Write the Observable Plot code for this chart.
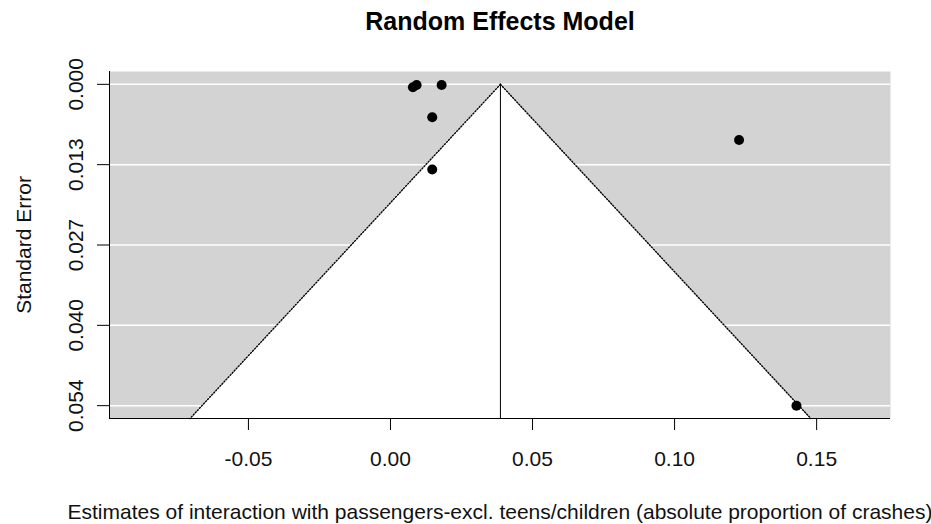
<!DOCTYPE html>
<html>
<head>
<meta charset="utf-8">
<script src="https://cdn.jsdelivr.net/npm/d3@7"></script>
<script src="https://cdn.jsdelivr.net/npm/@observablehq/plot@0.6"></script>
<style>
  html, body { margin: 0; padding: 0; background: white; }
</style>
</head>
<body>
<div id="chart"></div>
<script>
// ---- data ----
const estimates      = [0.0079, 0.0092, 0.0180, 0.0147, 0.0147, 0.1227, 0.1429];
const standardErrors = [0.0005, 0.0001, 0.0001, 0.0055, 0.0142, 0.0093, 0.0536];
const pooledEstimate = 0.0387;
const zCrit = 1.96;

const xTicks      = [-0.05, 0, 0.05, 0.10, 0.15];
const xTickLabels = ["-0.05", "0.00", "0.05", "0.10", "0.15"];
const seTicks      = [0, 0.0134, 0.0268, 0.0402, 0.0536];
const seTickLabels = ["0.000", "0.013", "0.027", "0.040", "0.054"];
const xDomain  = [-0.0989, 0.176];
const seDomain = [-0.00214, 0.05574];

const titleText = "Random Effects Model";
const xLabel = "Estimates of interaction with passengers-excl. teens/children (absolute proportion of crashes)";
const yLabel = "Standard Error";

// ---- derived tables ----
const points = estimates.map((e, i) => ({est: e, se: standardErrors[i]}));
const funnelSE = [0, seDomain[1]];

const font = "'Liberation Sans', Arial, Helvetica, sans-serif";

const chart = Plot.plot({
  width: 931,
  height: 524,
  marginLeft: 109,
  marginRight: 41,
  marginTop: 71,
  marginBottom: 106,
  style: {fontFamily: font, background: "white", color: "black", overflow: "visible"},
  x: {domain: xDomain, axis: null},
  y: {domain: seDomain, reverse: true, axis: null},
  marks: [
    Plot.frame({fill: "#d3d3d3", stroke: null}),
    Plot.ruleY(seTicks, {stroke: "white", strokeWidth: 1.5}),
    Plot.areaX(funnelSE, {y: d => d, x1: d => pooledEstimate - zCrit * d, x2: d => pooledEstimate + zCrit * d, fill: "white"}),
    Plot.line(funnelSE, {y: d => d, x: d => pooledEstimate - zCrit * d, stroke: "black", strokeWidth: 1.4, strokeDasharray: "1.2,1.8"}),
    Plot.line(funnelSE, {y: d => d, x: d => pooledEstimate + zCrit * d, stroke: "black", strokeWidth: 1.4, strokeDasharray: "1.2,1.8"}),
    Plot.ruleX([pooledEstimate], {y1: 0, y2: seDomain[1], stroke: "black", strokeWidth: 1}),
    // L-shaped box
    Plot.ruleX([xDomain[0]], {stroke: "black", strokeWidth: 1}),
    Plot.ruleY([seDomain[1]], {stroke: "black", strokeWidth: 1}),
    // points
    Plot.dot(points, {x: "est", y: "se", r: 5, fill: "black", stroke: null}),
    // axes ticks
    Plot.axisX(xTicks, {tickSize: 12, tickFormat: () => "", label: null, stroke: "black"}),
    Plot.axisY(seTicks, {tickSize: 12, tickFormat: () => "", label: null, stroke: "black"}),
    // tick labels
    Plot.text(xTicks, {x: d => d, text: (d, i) => xTickLabels[i], frameAnchor: "bottom", dy: 47, lineAnchor: "bottom", fontSize: 21, fill: "#111"}),
    Plot.text(seTicks, {y: d => d, text: (d, i) => seTickLabels[i], frameAnchor: "left", dx: -27, rotate: -90, lineAnchor: "bottom", textAnchor: "middle", fontSize: 21, fill: "#111"}),
    // axis titles and plot title
    Plot.text([yLabel], {text: d => d, frameAnchor: "left", dx: -79, rotate: -90, lineAnchor: "bottom", textAnchor: "middle", fontSize: 21, fill: "#111"}),
    Plot.text([xLabel], {text: d => d, frameAnchor: "bottom", dy: 100, lineAnchor: "bottom", fontSize: 21, fill: "#111"}),
    Plot.text([titleText], {text: d => d, frameAnchor: "top", dy: -42, lineAnchor: "bottom", fontSize: 25, fontWeight: "bold", fill: "black"})
  ]
});
document.getElementById("chart").appendChild(chart);
</script>
</body>
</html>
